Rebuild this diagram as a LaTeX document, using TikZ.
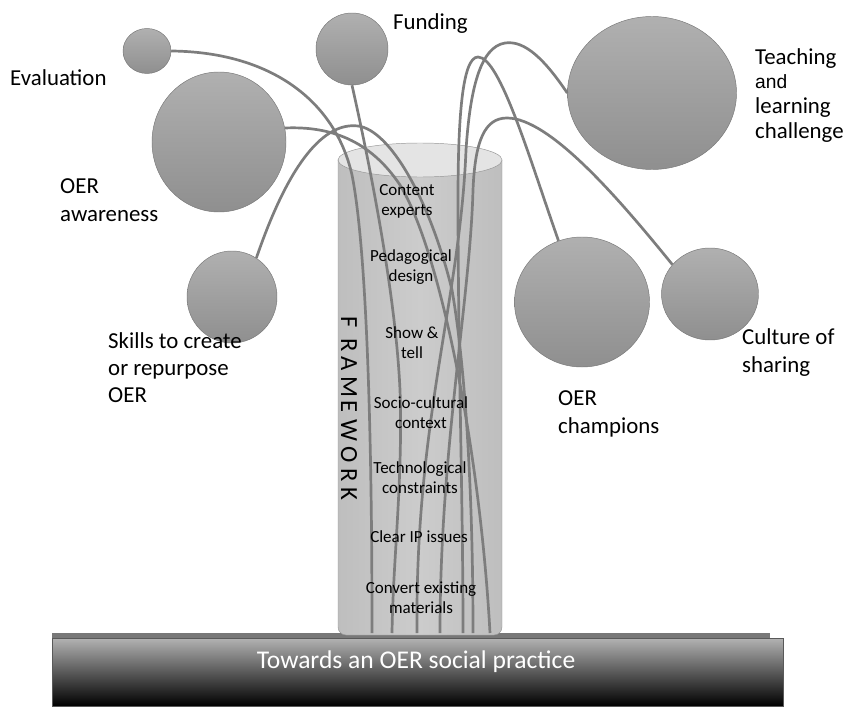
\documentclass[tikz,border=0pt]{standalone}
\usepackage{fontspec}
\setmainfont{Carlito}
\newfontfamily\andfont{Liberation Sans}
\usetikzlibrary{shapes.geometric}

\definecolor{balltop}{RGB}{176,176,176}
\definecolor{ballbot}{RGB}{143,143,143}
\definecolor{ballline}{RGB}{120,120,120}
\definecolor{strandcol}{RGB}{125,125,125}
\definecolor{cylside}{RGB}{190,190,190}
\definecolor{cylmid}{RGB}{204,204,204}
\definecolor{cyledge}{RGB}{150,150,150}
\definecolor{cyltop}{RGB}{228,228,228}

\tikzset{
  ball/.style={ellipse,draw=ballline,thin,top color=balltop,bottom color=ballbot,inner sep=0pt},
  strand/.style={draw=strandcol,line width=2.3pt},
  biglabel/.style={anchor=west,align=left,inner sep=0pt,font=\fontsize{19.5}{23.5}\selectfont},
  innerlabel/.style={align=center,inner sep=0pt,font=\fontsize{14.5}{17}\selectfont},
}

\begin{document}
\begin{tikzpicture}[x=0.03cm,y=-0.03cm]
    \useasboundingbox (0,0) rectangle (850,706);

    % ground
    \fill[cyledge!80!black] (52,633) rectangle (770,638);
    \draw[black!65,top color=black!30,bottom color=black] (52,638) rectangle (783,706);
    \node[text=white,font=\fontsize{21.8}{26}\selectfont] (base) at (416,662) {Towards an OER social practice};

    % the framework cylinder
    \draw[cyledge,left color=cylside,right color=cylside,middle color=cylmid]
        (338,160) -- (338,627) arc[start angle=180,end angle=90,radius=8]
        -- (494,635) arc[start angle=90,end angle=0,radius=8] -- (502,160) -- cycle;
    \draw[cyledge,fill=cyltop] (420,160) ellipse[x radius=82,y radius=17];

    \foreach \ch/\yy [count=\i] in {F/322,R/345,A/364,M/387,E/407,W/430,O/455,R/475,K/494}
        \node[rotate=-90,inner sep=0pt,font=\fontsize{21}{22}\selectfont] (fw\i) at (349,\yy) {\ch};

    % circles
    \node[ball,minimum width=1.44cm,minimum height=1.35cm] (eval) at (147,51) {};
    \node[ball,minimum width=2.16cm,minimum height=2.16cm] (fund) at (352,49) {};
    \node[ball,minimum width=4.02cm,minimum height=4.2cm] (aware) at (219,142) {};
    \node[ball,minimum width=2.7cm,minimum height=2.76cm] (skills) at (232,297) {};
    \node[ball,minimum width=5.07cm,minimum height=4.59cm] (teach) at (652,93) {};
    \node[ball,minimum width=4.05cm,minimum height=3.9cm] (champ) at (582,302) {};
    \node[ball,minimum width=2.91cm,minimum height=2.76cm] (culture) at (710,294) {};

    % feet of the strands
    \foreach \n/\x in {1/372,2/392,3/490,4/473,5/417,6/463,7/440}
        \coordinate (foot\n) at (\x,633);

    % strands
    \draw[strand] (eval.east) .. controls (270,52) and (335,100) .. (352,175)
        .. controls (365,240) and (372,400) .. (foot1);
    \draw[strand] (fund.south) .. controls (362,130) and (395,280) .. (400,390)
        .. controls (403,480) and (393,560) .. (foot2);
    \draw[strand] (aware.12) .. controls (330,126) and (370,140) .. (400,185)
        .. controls (440,250) and (480,450) .. (foot3);
    \draw[strand] (skills.58) .. controls (290,160) and (325,122) .. (358,126)
        .. controls (390,130) and (430,200) .. (452,290)
        .. controls (466,370) and (473,500) .. (foot4);
    \draw[strand] (teach.west) .. controls (545,60) and (525,40) .. (505,43)
        .. controls (480,47) and (470,90) .. (466,150)
        .. controls (460,300) and (415,420) .. (foot5);
    \draw[strand] (champ.111) .. controls (530,160) and (500,57) .. (478,57)
        .. controls (462,57) and (458,120) .. (458,200)
        .. controls (458,350) and (463,500) .. (foot6);
    \draw[strand] (culture.142) .. controls (620,200) and (550,118) .. (507,118)
        .. controls (485,118) and (475,140) .. (473,190)
        .. controls (470,300) and (440,450) .. (foot7);

    % framework items
    \node[innerlabel] (content) at (407,201) {Content\\experts};
    \node[innerlabel] (pedag) at (411,267) {Pedagogical\\design};
    \node[innerlabel] (show) at (412,343) {Show \&\\tell};
    \node[innerlabel] (socio) at (421,413) {Socio-cultural\\context};
    \node[innerlabel] (techno) at (420,478) {Technological\\constraints};
    \node[innerlabel] (clear) at (419,537) {Clear IP issues};
    \node[innerlabel] (convert) at (421,598) {Convert existing\\materials};

    % labels
    \node[biglabel] (evallab) at (10,78) {Evaluation};
    \node[biglabel] (fundlab) at (393,24) {Funding};
    \node[biglabel,font=\fontsize{19.5}{21.3}\selectfont] (teachlab) at (755,95.5)
        {Teaching\\{\andfont\fontsize{16.4}{21.3}\selectfont and}\\learning\\challenge};
    \node[biglabel,font=\fontsize{19.5}{23.9}\selectfont] (awarelab) at (60,200) {OER\\awareness};
    \node[biglabel,font=\fontsize{19.5}{23}\selectfont] (skillslab) at (108,368) {Skills to create\\or repurpose\\OER};
    \node[biglabel,font=\fontsize{19.5}{23.9}\selectfont] (culturelab) at (742,353) {Culture of\\sharing};
    \node[biglabel,font=\fontsize{19.5}{23.9}\selectfont] (champlab) at (558,414) {OER\\champions};
\end{tikzpicture}
\end{document}
